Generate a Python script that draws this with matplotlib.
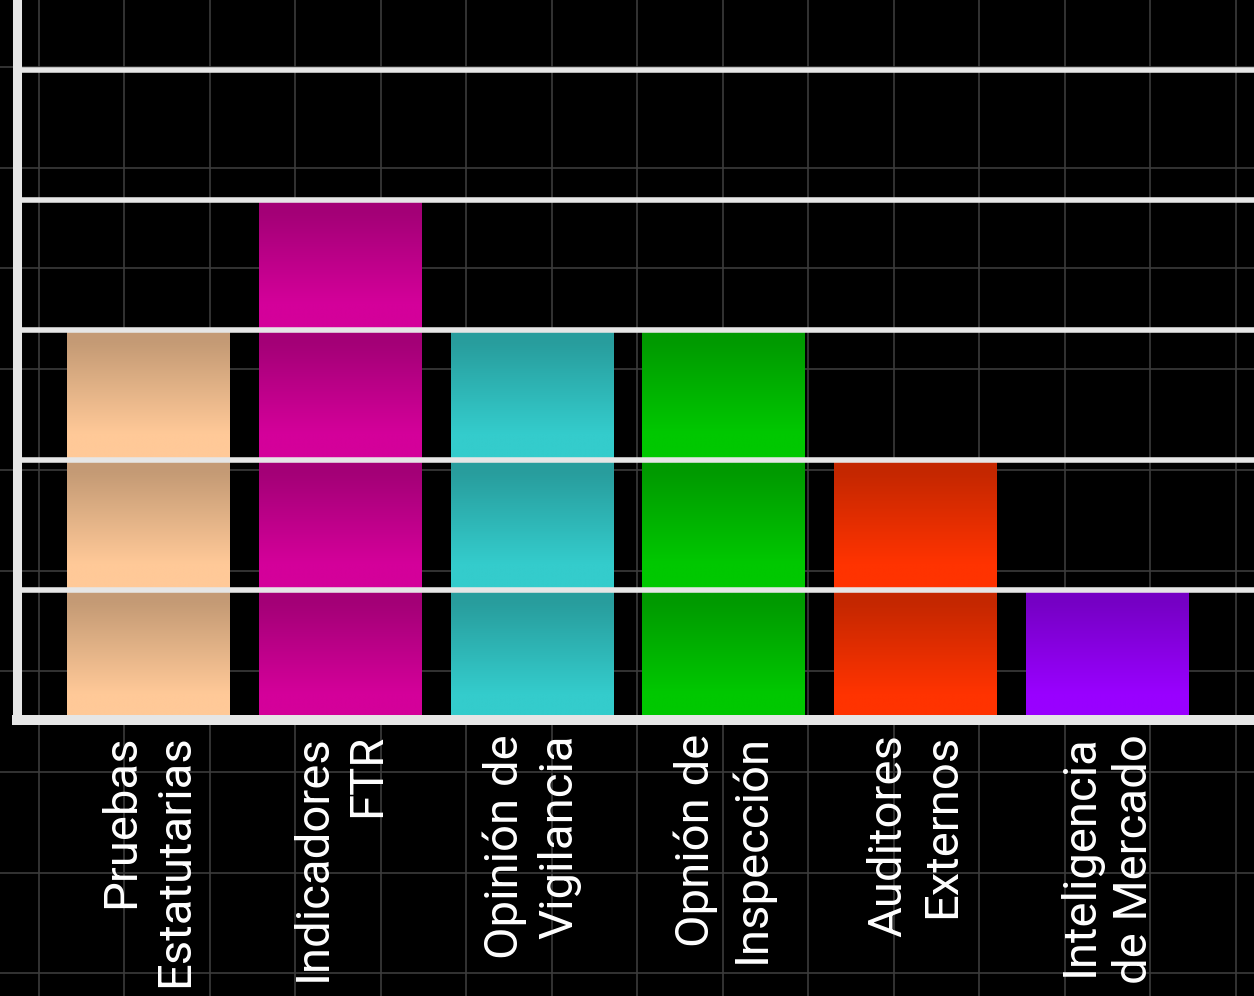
import numpy as np
import matplotlib
matplotlib.use('Agg')
from matplotlib import pyplot as plt
from matplotlib.colors import LinearSegmentedColormap, to_rgb

# categories and values
categorias = ['Pruebas\nEstatutarias', 'Indicadores\nFTR', 'Opinión de\nVigilancia',
              'Opnión de\nInspección', 'Auditores\nExternos', 'Inteligencia\nde Mercado']
valores = [3, 4, 3, 3, 2, 1]
colores = ['#ffc998', '#d4009a', '#34cccc', '#00c800', '#ff3300', '#9900ff']

plt.rcParams['font.family'] = ['Roboto', 'DejaVu Sans']

fig = plt.figure(figsize=(12.54, 9.96), dpi=100, facecolor='black')

# dark grid over the whole figure, behind everything
bg = fig.add_axes([0, 0, 1, 1], zorder=-1)
bg.set_facecolor('black')
bg.set_xlim(0, 1254)
bg.set_ylim(996, 0)
bg.set_xticks(np.arange(38.5, 1254, 85.5))
bg.set_yticks(np.arange(67, 996, 100.7))
bg.grid(True, color='#3c3c3c', linewidth=1.2)
bg.tick_params(length=0, labelbottom=False, labelleft=False)
for s in bg.spines.values():
    s.set_visible(False)

ax = fig.add_axes([16.5 / 1254, 276 / 996, 1 - 16.5 / 1254, 720 / 996])
ax.set_facecolor('none')

ancho = 0.845
x = np.arange(len(categorias))

# each unit block of a bar gets its own vertical gradient (dark top -> light bottom)
s = np.linspace(0, 1, 256)
t = np.clip((s - 0.1) / 0.7, 0, 1)
grad = t.reshape(-1, 1)
for xi, v, c in zip(x, valores, colores):
    claro = np.array(to_rgb(c))
    oscuro = claro * 0.77
    cmap = LinearSegmentedColormap.from_list('g', [oscuro, claro])
    for k in range(v):
        ax.imshow(grad, cmap=cmap, aspect='auto', interpolation='bilinear',
                  origin='upper', extent=(xi - ancho / 2, xi + ancho / 2, k, k + 1),
                  zorder=1)

ax.set_xlim(-0.686, 5.766)
ax.set_ylim(0, 5.538)

ax.set_yticks(range(0, 6))
ax.yaxis.grid(True, color='#e6e6e6', linewidth=4)
ax.set_axisbelow(False)
ax.tick_params(axis='y', length=0, labelleft=False)

ax.set_xticks(x)
ax.set_xticklabels(categorias, rotation=90, ma='right', color='white', fontsize=34,
                   linespacing=1.3)
ax.tick_params(axis='x', length=0, pad=10)

ax.spines['left'].set_color('#e6e6e6')
ax.spines['left'].set_linewidth(6.5)
ax.spines['bottom'].set_color('#e6e6e6')
ax.spines['bottom'].set_linewidth(7.2)
ax.spines['top'].set_visible(False)
ax.spines['right'].set_visible(False)

plt.savefig('out.png', dpi=100, facecolor='black')
